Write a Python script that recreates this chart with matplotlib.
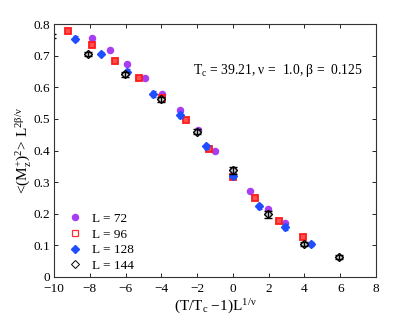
import matplotlib
matplotlib.use("Agg")
import matplotlib.pyplot as plt
import numpy as np

plt.rcParams['font.family'] = ['Liberation Serif', 'DejaVu Serif']
plt.rcParams['mathtext.fontset'] = 'custom'
plt.rcParams['mathtext.rm'] = 'Liberation Serif'
plt.rcParams['mathtext.it'] = 'Liberation Serif'

# L = 72
x72 = [-7.88, -6.89, -5.92, -4.91, -3.95, -2.96, -1.97, -1.02, 0.0, 0.96, 1.94, 2.91]
y72 = [0.756, 0.718, 0.674, 0.628, 0.578, 0.527, 0.465, 0.398, 0.337, 0.272, 0.216, 0.171]
e72 = [0.004] * len(x72)
# L = 96
x96 = [-9.20, -7.88, -6.57, -5.27, -3.95, -2.64, -1.34, 0.0, 1.25, 2.58, 3.90]
y96 = [0.778, 0.735, 0.684, 0.631, 0.565, 0.496, 0.406, 0.317, 0.249, 0.178, 0.125]
e96 = [0.005] * len(x96)
# L = 128
x128 = [-8.84, -7.39, -5.90, -4.45, -2.97, -1.50, 0.0, 1.44, 2.91, 4.37]
y128 = [0.754, 0.707, 0.650, 0.578, 0.512, 0.414, 0.320, 0.224, 0.158, 0.103]
e128 = [0.008, 0.006, 0.007, 0.010, 0.010, 0.008, 0.008, 0.008, 0.009, 0.006]
# L = 144
x144 = [-10.12, -8.08, -6.05, -4.04, -2.03, 0.0, 1.94, 3.97, 5.95]
y144 = [0.762, 0.706, 0.641, 0.563, 0.459, 0.338, 0.198, 0.104, 0.062]
e144 = [0.007, 0.006, 0.008, 0.008, 0.008, 0.011, 0.010, 0.007, 0.006]

purple = '#a73ef2'
red = '#ff1a1a'
blue = '#1f4dff'

fig = plt.figure(figsize=(4.15, 3.22), dpi=100)
ax = fig.add_axes([0.130, 0.140, 0.776, 0.785])

xlim = (-10, 8)

def inside(xs, ys):
    xs = np.asarray(xs); ys = np.asarray(ys)
    m = (xs >= xlim[0]) & (xs <= xlim[1])
    return xs[m], ys[m]

ax.errorbar(x72, y72, yerr=e72, fmt='none', ecolor=purple, elinewidth=1.0, capsize=0)
xx, yy = inside(x72, y72)
l1, = ax.plot(xx, yy, 'o', color=purple, ms=4.4, mec=purple, label='L = 72')

ax.errorbar(x96, y96, yerr=e96, fmt='none', ecolor=red, elinewidth=1.0, capsize=0)
xx, yy = inside(x96, y96)
ax.plot(xx, yy, 's', color=red, ms=3.8, mfc='#ff5050', mec=red, mew=1.3)
l2, = ax.plot([], [], 's', ms=3.8, mfc='white', mec='#ff3030', mew=0.9, label='L = 96')

xx, yy = inside(x128, y128)
ax.plot(xx, yy, 'D', color=blue, ms=3.8, mec=blue)
ax.errorbar(x128, y128, yerr=e128, fmt='none', ecolor=blue, elinewidth=1.2, capsize=1.8)
l3, = ax.plot([], [], 'D', color=blue, ms=3.6, mec=blue, label='L = 128')

xx, yy = inside(x144, y144)
ax.plot(xx, yy, 'D', ms=4.2, mfc='#cccccc', mec='black', mew=1.0)
ax.errorbar(x144, y144, yerr=e144, fmt='none', ecolor='black', elinewidth=0.9, capsize=3, capthick=1.0)
l4, = ax.plot([], [], 'D', ms=3.6, mfc='none', mec='black', mew=0.7, label='L = 144')

ax.set_xlim(*xlim)
ax.set_ylim(0, 0.8)
ax.set_xticks(np.arange(-10, 9, 2))
ax.set_yticks(np.arange(0, 0.81, 0.1))
ax.set_yticklabels(['0', '0.1', '0.2', '0.3', '0.4', '0.5', '0.6', '0.7', '0.8'])
ax.tick_params(direction='in', top=True, right=True, labelsize=9.5, length=3, width=0.6)
ax.tick_params(axis='x', pad=4.5)
ax.tick_params(axis='y', pad=3)
for s in ax.spines.values():
    s.set_linewidth(0.8)
    s.set_color('#333333')

ax.text(-2.25, 0.654, r'T$_{\rm c}$ = 39.21, ν =  1.0, β =  0.125', fontsize=9.8, va='center', ha='left')

ax.set_xlabel(r'(T/T$_{\rm c}$ −1)L$^{1/ν}$', fontsize=11, labelpad=2)
ax.set_ylabel(r'<(M$_{\rm z}^{+}$)$^{2}$> L$^{2β/ν}$', fontsize=11, labelpad=0)

ax.legend(handles=[l1, l2, l3, l4], loc='upper left', bbox_to_anchor=(0.015, 0.29),
          frameon=False, fontsize=9.5, handlelength=1.0, handletextpad=0.8,
          labelspacing=0.25, borderaxespad=0.3)

fig.savefig('out.png', dpi=100)
